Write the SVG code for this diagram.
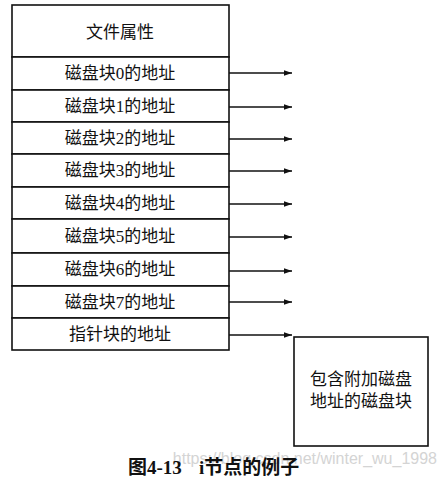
<svg xmlns="http://www.w3.org/2000/svg" width="447" height="483" viewBox="0 0 447 483">
<style>
.box{fill:#fff;stroke:#111;stroke-width:1.6}
.t{font-family:"Liberation Serif","Noto Sans CJK SC",serif;font-size:17px;fill:#111;text-anchor:middle;dominant-baseline:central}
.c{stroke:#111;stroke-width:1.5;fill:none}
.cap{font-family:"Liberation Serif","Noto Sans CJK SC",serif;font-size:19px;fill:#111;font-weight:bold}
.wm{font-family:"Liberation Sans",sans-serif;font-size:16px;fill:#d4d4d4}
</style>
<defs>
<marker id="ah" viewBox="0 0 10 10" refX="10" refY="5" markerWidth="10" markerHeight="8" markerUnits="userSpaceOnUse" orient="auto">
<path d="M0,1.5 L10,5 L0,8.5 Z" fill="#111"/>
</marker>
</defs>
<rect width="447" height="483" fill="#fff"/>
<g id="inode">
<g id="attr"><rect class="box" x="12" y="5" width="217" height="52"/><text class="t" x="120" y="32">文件属性</text></g>
<g id="b0"><rect class="box" x="12" y="57" width="217" height="33"/><text class="t" x="120" y="73.5">磁盘块0的地址</text></g>
<g id="b1"><rect class="box" x="12" y="90" width="217" height="32"/><text class="t" x="120" y="106">磁盘块1的地址</text></g>
<g id="b2"><rect class="box" x="12" y="122" width="217" height="32"/><text class="t" x="120" y="138">磁盘块2的地址</text></g>
<g id="b3"><rect class="box" x="12" y="154" width="217" height="33"/><text class="t" x="120" y="170.5">磁盘块3的地址</text></g>
<g id="b4"><rect class="box" x="12" y="187" width="217" height="32"/><text class="t" x="120" y="203">磁盘块4的地址</text></g>
<g id="b5"><rect class="box" x="12" y="219" width="217" height="34"/><text class="t" x="120" y="236">磁盘块5的地址</text></g>
<g id="b6"><rect class="box" x="12" y="253" width="217" height="33"/><text class="t" x="120" y="269.5">磁盘块6的地址</text></g>
<g id="b7"><rect class="box" x="12" y="286" width="217" height="32"/><text class="t" x="120" y="302">磁盘块7的地址</text></g>
<g id="ptr"><rect class="box" x="12" y="318" width="217" height="32"/><text class="t" x="120" y="334">指针块的地址</text></g>
</g>
<g id="extra"><rect class="box" x="294" y="337" width="134" height="109"/><text class="t" x="361" y="379">包含附加磁盘</text><text class="t" x="361" y="401">地址的磁盘块</text></g>
<g id="connectors">
<line class="c" x1="229" y1="73" x2="292" y2="73" marker-end="url(#ah)"/>
<line class="c" x1="229" y1="107" x2="292" y2="107" marker-end="url(#ah)"/>
<line class="c" x1="229" y1="139" x2="292" y2="139" marker-end="url(#ah)"/>
<line class="c" x1="229" y1="171" x2="292" y2="171" marker-end="url(#ah)"/>
<line class="c" x1="229" y1="204" x2="292" y2="204" marker-end="url(#ah)"/>
<line class="c" x1="229" y1="237" x2="292" y2="237" marker-end="url(#ah)"/>
<line class="c" x1="229" y1="271" x2="292" y2="271" marker-end="url(#ah)"/>
<line class="c" x1="229" y1="302" x2="292" y2="302" marker-end="url(#ah)"/>
<line class="c" x1="229" y1="335" x2="292" y2="335" marker-end="url(#ah)"/>
</g>
<text class="wm" x="437" y="464" text-anchor="end">https://blog.csdn.net/winter_wu_1998</text>
<text class="cap" x="128" y="474">图4-13<tspan x="199">i节点的例子</tspan></text>
</svg>
